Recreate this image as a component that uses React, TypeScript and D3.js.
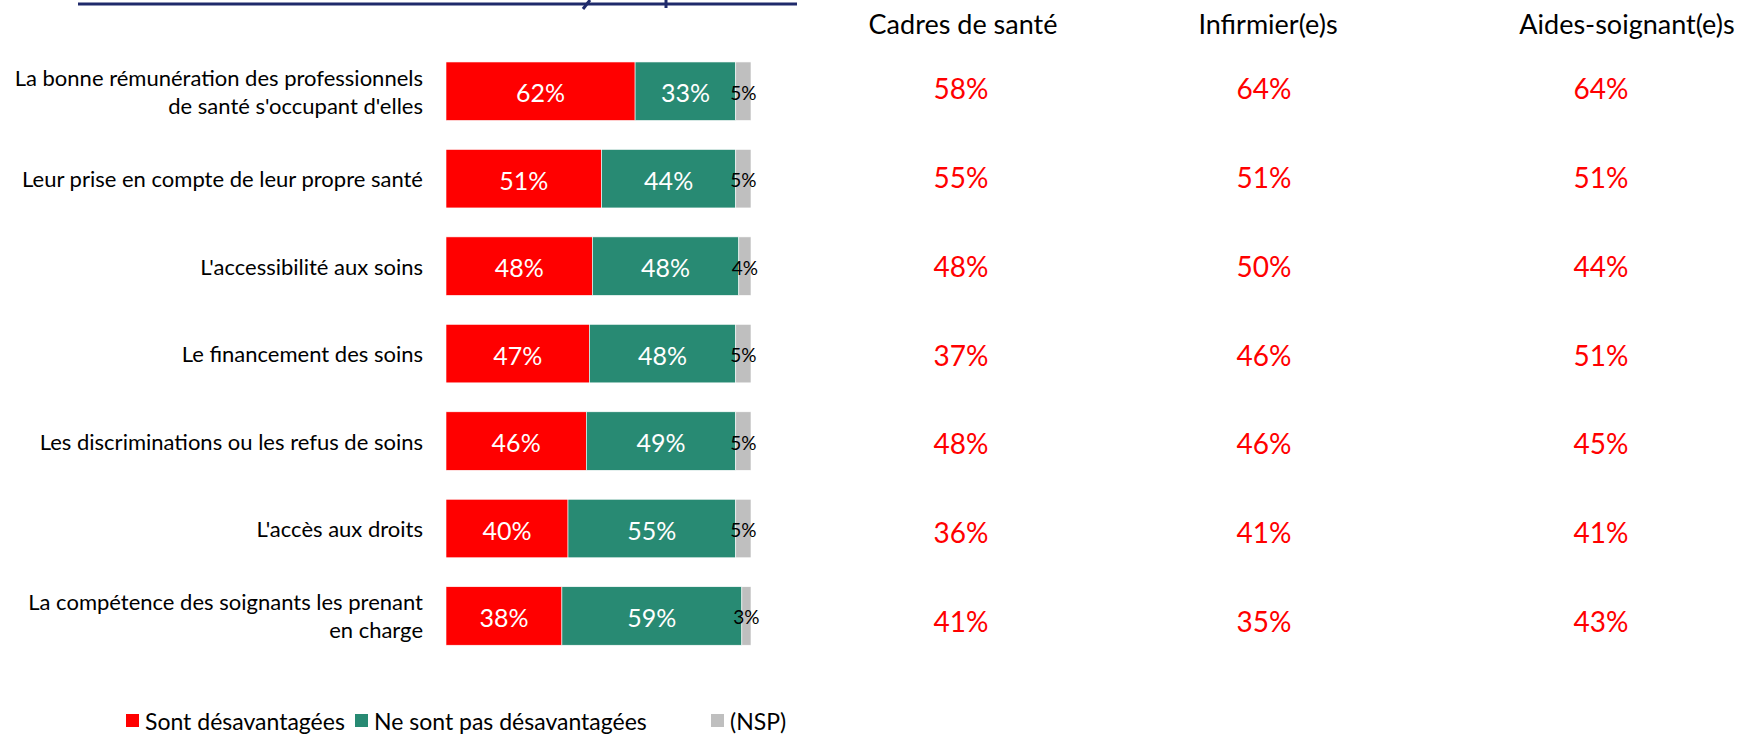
import React from "react";
import * as d3 from "d3";

const categories: string[][] = [
  ["La bonne rémunération des professionnels", "de santé s'occupant d'elles"],
  ["Leur prise en compte de leur propre santé"],
  ["L'accessibilité aux soins"],
  ["Le financement des soins"],
  ["Les discriminations ou les refus de soins"],
  ["L'accès aux droits"],
  ["La compétence des soignants les prenant", "en charge"],
];
const sontDesavantagees = [62, 51, 48, 47, 46, 40, 38];
const neSontPas = [33, 44, 48, 48, 49, 55, 59];
const nsp = [5, 5, 4, 5, 5, 5, 3];

const columnHeaders = ["Cadres de santé", "Infirmier(e)s", "Aides-soignant(e)s"];
const cadres = [58, 55, 48, 37, 48, 36, 41];
const infirmiers = [64, 51, 50, 46, 46, 41, 35];
const aidesSoignants = [64, 51, 44, 51, 45, 41, 43];

const seriesNames = ["Sont désavantagées", "Ne sont pas désavantagées", "(NSP)"];
const colors = ["#FF0000", "#288A73", "#BFBFBF"];

const W = 1743;
const H = 734;
const FONT = "Lato, 'Open Sans', sans-serif";

export default function App() {
  const ids = categories.map((_, i) => String(i));
  const y = d3
    .scaleBand<string>()
    .domain(ids)
    .range([47.5, 659.7])
    .paddingInner(0.331)
    .paddingOuter(0.1655);
  const x = d3.scaleLinear().domain([0, 100]).range([446, 751]);
  const yCol = d3.scalePoint<string>().domain(ids).range([88, 621]);
  const xHead = d3.scaleOrdinal<string, number>().domain(columnHeaders).range([963, 1268, 1627]);
  const xVal = d3.scaleOrdinal<string, number>().domain(columnHeaders).range([961, 1264, 1601]);
  const colVals = [cadres, infirmiers, aidesSoignants];
  const series = [sontDesavantagees, neSontPas, nsp];
  const legendX = d3.scaleOrdinal<string, number>().domain(seriesNames).range([126, 355, 711]);

  return (
    <svg width={W} height={H} style={{ position: "absolute", left: 0, top: 0, background: "#fff" }} fontFamily={FONT}>
      {/* title underline remnant */}
      <line x1={78} x2={797} y1={4} y2={4} stroke="#1F2A6B" strokeWidth={3} />
      <path d="M590,0 L583,9" stroke="#1F2A6B" strokeWidth={3} fill="none" />
      <path d="M666,0 L666,8" stroke="#1F2A6B" strokeWidth={3} fill="none" />

      {categories.map((lines, i) => {
        const id = ids[i];
        const by = y(id)!;
        const bh = y.bandwidth();
        const cy = by + bh / 2;
        let acc = 0;
        const segs = series.map((s, k) => {
          const x0 = x(acc);
          acc += s[i];
          const x1 = x(acc);
          return { x0, x1, v: s[i], k };
        });
        return (
          <g key={id}>
            {lines.map((ln, j) => (
              <text
                key={j}
                x={423}
                y={cy + (j - (lines.length - 1) / 2) * 28}
                textAnchor="end"
                dominantBaseline="central"
                fontSize={22}
                fill="#000"
              >
                {ln}
              </text>
            ))}
            {segs.map((s) => (
              <rect key={s.k} x={s.x0} y={by} width={s.x1 - s.x0} height={bh} fill={colors[s.k]} stroke="#fff" strokeWidth={0.6} />
            ))}
            {segs.map((s) => (
              <text
                key={"t" + s.k}
                x={(s.x0 + s.x1) / 2}
                y={cy + 1}
                textAnchor="middle"
                dominantBaseline="central"
                fontSize={s.k === 2 ? 19 : 25}
                fill={s.k === 2 ? "#000" : "#fff"}
              >
                {s.v}%
              </text>
            ))}
            {colVals.map((vals, c) => (
              <text
                key={"c" + c}
                x={xVal(columnHeaders[c])}
                y={yCol(id)!}
                textAnchor="middle"
                dominantBaseline="central"
                fontSize={28}
                fill="#FF0000"
              >
                {vals[i]}%
              </text>
            ))}
          </g>
        );
      })}

      {columnHeaders.map((h) => (
        <text key={h} x={xHead(h)} y={23} textAnchor="middle" dominantBaseline="central" fontSize={27} fill="#000">
          {h}
        </text>
      ))}

      {/* legend */}
      {seriesNames.map((name, k) => (
        <g key={name}>
          <rect x={legendX(name)} y={714} width={13} height={13} fill={colors[k]} />
          <text x={legendX(name) + 19} y={721} dominantBaseline="central" fontSize={23} fill="#000">
            {name}
          </text>
        </g>
      ))}
    </svg>
  );
}
